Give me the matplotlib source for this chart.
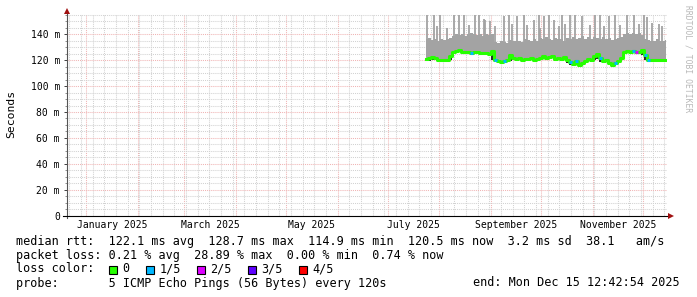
import numpy as np
import pandas as pd
import matplotlib
matplotlib.use('Agg')
import matplotlib.pyplot as plt
import matplotlib.dates as mdates
import matplotlib.transforms as mtransforms
from matplotlib.lines import Line2D
from matplotlib.patches import Rectangle
from matplotlib.ticker import MultipleLocator, NullFormatter

W, H = 697, 297
MONO = 'DejaVu Sans Mono'

# ---------------- data ----------------
t_start = pd.Timestamp('2024-12-20 12:42:54')
t_end = pd.Timestamp('2025-12-15 12:42:54')

dates = pd.date_range('2025-07-23 22:19', periods=81, freq='43h12min')

median_ms = [121.0, 122.0, 122.5, 121.5, 120.5, 120.2, 120.0, 120.3, 123.0,
             126.0, 127.0, 127.5, 126.5, 126.0, 126.3, 125.8, 126.0, 126.5, 125.5, 125.3, 125.5, 125.0, 127.0,
             120.0, 119.0, 118.2, 119.5, 120.5, 124.0, 121.5, 121.0,
             121.5, 120.5, 121.0, 120.8, 121.5, 120.5, 121.0, 122.0, 123.0, 121.5, 122.5, 123.5, 121.0, 122.0, 121.0, 122.5,
             120.0, 118.5, 117.0, 119.0, 116.5, 118.0, 119.5, 121.0, 120.0, 123.0, 125.0, 121.5, 119.0, 120.5, 118.0, 116.5, 117.5, 119.0, 122.0,
             126.5, 126.8, 126.5, 126.7, 126.5, 126.0, 128.0,
             124.0, 120.0, 120.2, 119.8, 120.0, 120.3, 120.0, 120.2]

low_ms = [119.0, 119.5, 120.0, 120.0, 119.5, 119.5, 119.2, 119.5, 120.0,
          125.2, 126.2, 126.7, 125.7, 125.2, 125.5, 125.0, 125.2, 125.7, 124.7, 124.5, 124.7, 124.2, 120.0,
          119.0, 118.0, 117.5, 118.5, 119.5, 119.5, 120.0, 120.0,
          120.5, 119.5, 120.0, 119.8, 120.5, 120.0, 119.5, 120.0, 121.0, 120.0, 121.0, 121.5, 119.5, 120.5, 119.5, 120.5,
          118.0, 116.0, 115.5, 117.0, 115.0, 116.0, 118.0, 119.5, 118.5, 120.0, 121.0, 118.5, 117.5, 118.5, 116.0, 115.0, 116.0, 117.5, 120.5,
          125.7, 126.0, 125.7, 125.9, 125.7, 125.2, 124.0,
          120.0, 119.2, 119.4, 119.0, 119.2, 119.5, 119.2, 119.4]

high_ms = [136.0, 137.0, 135.5, 136.5, 135.0, 136.0, 135.5, 136.0, 137.0,
           139.0, 140.0, 139.5, 140.5, 139.0, 140.0, 141.0, 140.0, 139.5, 140.0, 139.0, 140.5, 139.5, 140.0,
           134.0, 133.5, 135.0, 134.0, 133.0, 135.5, 134.5, 135.0,
           135.0, 134.0, 136.0, 135.5, 134.5, 136.0, 135.0, 137.0, 136.0, 137.5, 136.0, 135.5, 137.0, 136.0, 136.5, 135.0,
           137.0, 136.0, 138.0, 136.5, 137.0, 138.5, 136.0, 137.5, 136.0, 138.0, 137.0, 136.5, 137.5, 136.0, 137.0, 135.5, 136.5, 137.0, 138.0,
           140.5, 141.0, 140.0, 141.0, 140.5, 141.0, 139.5,
           136.0, 135.5, 134.5, 135.0, 136.0, 134.5, 135.0, 135.5]

loss_idx = [0, 0, 0, 0, 0, 0, 0, 0, 0, 0,
            0, 0, 0, 0, 0, 1, 0, 0, 0, 0,
            0, 0, 0, 1, 0, 0, 1, 0, 0, 0,
            0, 0, 0, 0, 0, 0, 0, 0, 0, 0,
            0, 0, 0, 0, 0, 0, 0, 0, 1, 0,
            1, 0, 0, 0, 0, 0, 0, 0, 1, 0,
            0, 0, 0, 1, 0, 0, 0, 0, 0, 1,
            2, 0, 0, 1, 1, 0, 0, 0, 0, 0,
            0]

spike_dates = ['2025-07-24', '2025-07-28', '2025-07-30', '2025-08-01', '2025-08-05',
               '2025-08-09', '2025-08-12', '2025-08-15', '2025-08-18', '2025-08-22',
               '2025-08-24', '2025-08-27', '2025-08-28', '2025-08-31', '2025-09-03',
               '2025-09-08', '2025-09-11', '2025-09-13', '2025-09-16', '2025-09-20',
               '2025-09-22', '2025-09-26', '2025-09-29', '2025-09-30', '2025-10-02',
               '2025-10-05', '2025-10-08', '2025-10-11', '2025-10-13', '2025-10-15',
               '2025-10-18', '2025-10-21', '2025-10-25', '2025-10-30', '2025-11-02',
               '2025-11-05', '2025-11-07', '2025-11-10', '2025-11-14', '2025-11-17',
               '2025-11-21', '2025-11-25', '2025-11-28', '2025-12-01', '2025-12-03',
               '2025-12-06', '2025-12-10', '2025-12-12']
spike_top_ms = [155, 155, 146, 155, 145,
                155, 155, 155, 147, 155,
                155, 152, 151, 150, 146,
                154, 155, 148, 154, 155,
                147, 151, 155, 145, 154,
                155, 151, 146, 155, 148,
                155, 155, 154, 147, 155,
                155, 146, 154, 155, 147,
                155, 155, 148, 155, 153,
                149, 148, 146]

loss_colors = ['#26ff00', '#00b8ff', '#dd00ff', '#5e00ff', '#ff0000']
loss_names = ['0', '1/5', '2/5', '3/5', '4/5']

y_ticks = [0, 20, 40, 60, 80, 100, 120, 140]
y_tick_labels = ['0', '20 m', '40 m', '60 m', '80 m', '100 m', '120 m', '140 m']

month_labels = ['January 2025', 'March 2025', 'May 2025', 'July 2025',
                'September 2025', 'November 2025']
month_label_start = ['2025-01-01', '2025-03-01', '2025-05-01', '2025-07-01',
                     '2025-09-01', '2025-11-01']

stats_line1 = 'median rtt:  122.1 ms avg  128.7 ms max  114.9 ms min  120.5 ms now  3.2 ms sd  38.1   am/s'
stats_line2 = 'packet loss: 0.21 % avg  28.89 % max  0.00 % min  0.74 % now'
probe_line = 'probe:       5 ICMP Echo Pings (56 Bytes) every 120s'
end_line = 'end: Mon Dec 15 12:42:54 2025'

# ---------------- figure ----------------
fig = plt.figure(figsize=(W / 100, H / 100), dpi=100)
fig.patch.set_facecolor('white')

X0, X1 = 67, 667
YB, YT = 215.7, 13.5
ax = fig.add_axes([X0 / W, (H - YB) / H, (X1 - X0) / W, (YB - YT) / H])
ax.set_facecolor('white')
ax.set_xlim(t_start, t_end)
ax.set_ylim(0, 156)

for s in ax.spines.values():
    s.set_visible(False)

# grid
ax.set_axisbelow(True)
ax.xaxis.set_major_locator(mdates.MonthLocator())
ax.xaxis.set_minor_locator(mdates.WeekdayLocator(byweekday=mdates.SU))
ax.xaxis.set_major_formatter(NullFormatter())
ax.yaxis.set_major_locator(MultipleLocator(20))
ax.yaxis.set_minor_locator(MultipleLocator(5))
ax.set_yticks(y_ticks)
ax.set_yticklabels(y_tick_labels, fontfamily=MONO, fontsize=7)
ax.grid(which='minor', color='#d2d2d2', linestyle=(0, (1, 1)), linewidth=0.75)
ax.grid(which='major', color='#f0b4b4', linestyle=(0, (1, 1)), linewidth=0.75)
ax.tick_params(axis='x', which='both', length=0, labelbottom=False)
ax.tick_params(axis='y', which='major', length=2.2, width=0.7, color='#404040', pad=2.9)
ax.tick_params(axis='y', which='minor', length=1.2, width=0.6, color='#808080')

# smoke
step = pd.Timedelta(hours=43.2)
ax.fill_between(dates, low_ms, high_ms, step='mid', color='#a3a3a3', linewidth=0, zorder=2)
ax.vlines(pd.to_datetime(spike_dates) + pd.Timedelta(hours=12), 130, spike_top_ms,
          color='#a3a3a3', linewidth=1.3, zorder=2)
ax.fill_between(dates, low_ms, median_ms, step='mid', color='#2a2a2a', linewidth=0, zorder=3)

# median coloured by loss
ax.step(dates, median_ms, where='mid', color=loss_colors[0], linewidth=2.2, zorder=4)
for d, m, l in zip(dates, median_ms, loss_idx):
    if l > 0:
        ax.hlines(m, d - step / 2, d + step / 2, color=loss_colors[l], linewidth=2.2, zorder=5)

# month labels centred in month
trans = mtransforms.blended_transform_factory(ax.transData, fig.transFigure)
for lab, ms in zip(month_labels, month_label_start):
    a = pd.Timestamp(ms)
    b = a + pd.offsets.MonthBegin(1)
    mid = a + (b - a) / 2
    ax.text(mid, 1 - 225.5 / H, lab, transform=trans, ha='center', va='center',
            fontfamily=MONO, fontsize=7, color='black', clip_on=False)

# axes lines and arrows (figure coords)
def fx(x):
    return x / W

def fy(y):
    return 1 - y / H

fig.add_artist(Line2D([fx(X0), fx(X0)], [fy(218), fy(12)], color='#555555', lw=0.8))
fig.add_artist(Line2D([fx(63), fx(669)], [fy(YB), fy(YB)], color='black', lw=0.8))
fig.add_artist(Line2D([fx(X0)], [fy(10.5)], marker='^', markersize=4.5, color='#a01010',
                      markeredgewidth=0, linestyle='none'))
fig.add_artist(Line2D([fx(670.5)], [fy(YB)], marker='>', markersize=4.5, color='#a01010',
                      markeredgewidth=0, linestyle='none'))

# labels
fig.text(fx(11), fy(114), 'Seconds', rotation=90, ha='center', va='center',
         fontfamily=MONO, fontsize=8.2, color='black')
fig.text(fx(688), fy(5), 'RRDTOOL / TOBI OETIKER', rotation=-90, ha='center', va='top',
         fontfamily=MONO, fontsize=5.8, color='#b8b8b8')

# legend / stats
FS = 8.5
fig.text(fx(16), fy(241), stats_line1, ha='left', va='center', fontfamily=MONO, fontsize=FS)
fig.text(fx(16), fy(255), stats_line2, ha='left', va='center', fontfamily=MONO, fontsize=FS)
fig.text(fx(16), fy(269), 'loss color:', ha='left', va='center', fontfamily=MONO, fontsize=FS)
sq_x = [108.5, 145.5, 196.5, 247.5, 298.5]
lab_x = [122, 159.5, 210.5, 261.5, 312.5]
for c, n, sx, lx in zip(loss_colors, loss_names, sq_x, lab_x):
    fig.add_artist(Rectangle((fx(sx), fy(273.5)), 8 / W, 8 / H, transform=fig.transFigure,
                             facecolor=c, edgecolor='black', linewidth=0.8))
    fig.text(fx(lx), fy(269), n, ha='left', va='center', fontfamily=MONO, fontsize=FS)
fig.text(fx(16), fy(283), probe_line, ha='left', va='center', fontfamily=MONO, fontsize=FS)
fig.text(fx(680), fy(283), end_line, ha='right', va='center', fontfamily=MONO, fontsize=FS)

fig.savefig('out.png', dpi=100, facecolor='white')
